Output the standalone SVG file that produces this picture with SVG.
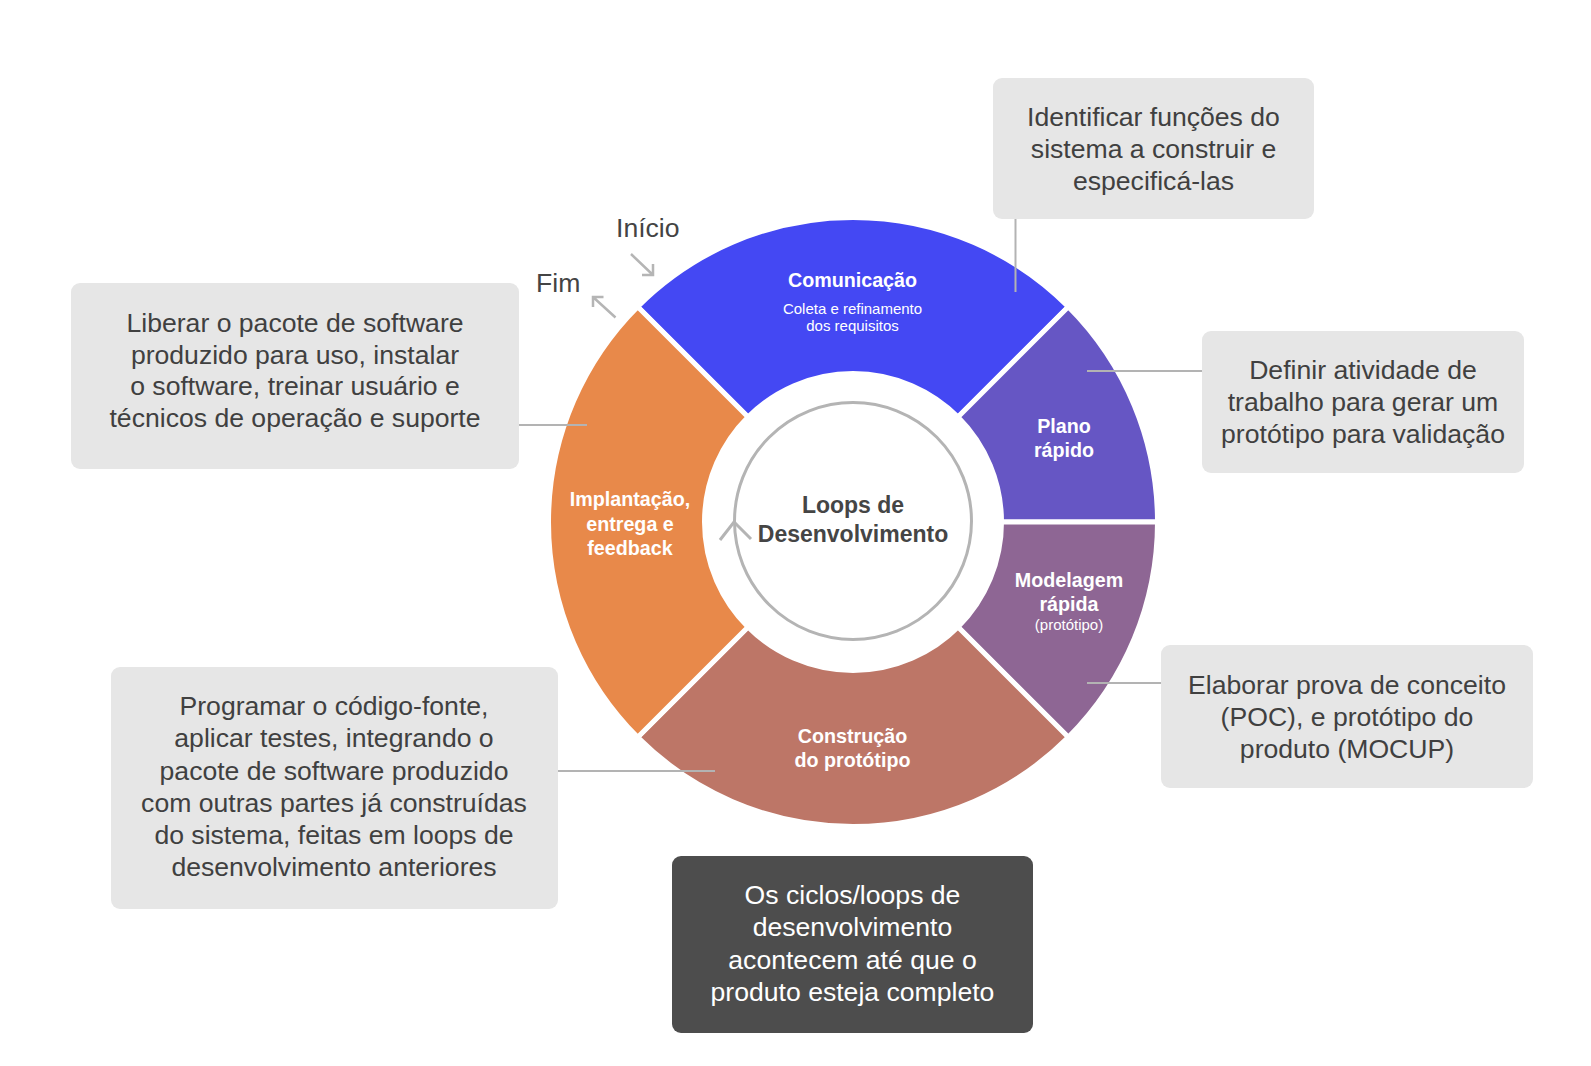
<svg xmlns="http://www.w3.org/2000/svg" width="1591" height="1066" viewBox="0 0 1591 1066">
<defs>
<style>
.seg{stroke:#ffffff;stroke-width:5;stroke-linejoin:miter}
.lbl{font-family:"Liberation Sans",Arial,sans-serif;font-weight:bold;font-size:19.7px;fill:#ffffff;text-anchor:middle}
.sub{font-family:"Liberation Sans",Arial,sans-serif;font-size:15px;fill:#ffffff;text-anchor:middle}
.box{fill:#e6e6e6}
.btxt{font-family:"Liberation Sans",Arial,sans-serif;font-size:26.6px;fill:#404040;text-anchor:middle}
.wtxt{font-family:"Liberation Sans",Arial,sans-serif;font-size:26.6px;fill:#ffffff;text-anchor:middle}
.conn{stroke:#b3b3b3;stroke-width:2;fill:none}
.arr{stroke:#b5b5b5;stroke-width:2.5;fill:none;stroke-linecap:butt}
.side{font-family:"Liberation Sans",Arial,sans-serif;font-size:26.6px;fill:#444444}
</style>
</defs>
<rect x="0" y="0" width="1591" height="1066" fill="#ffffff"/>

<g id="comunicacao">
<path class="seg" fill="#4448f3" d="M637.685,306.685 A304.5,304.5 0 0 1 1068.315,306.685 L958.005,416.995 A148.5,148.5 0 0 0 747.995,416.995 Z"/>
<text class="lbl" x="852.5" y="287">Comunicação</text>
<text class="sub" x="852.5" y="314">Coleta e refinamento</text>
<text class="sub" x="852.5" y="331">dos requisitos</text>
</g>
<g id="plano">
<path class="seg" fill="#6656c4" d="M1068.315,306.685 A304.5,304.5 0 0 1 1157.5,522 L1001.5,522 A148.5,148.5 0 0 0 958.005,416.995 Z"/>
<text class="lbl" x="1064" y="433">Plano</text>
<text class="lbl" x="1064" y="457">rápido</text>
</g>
<g id="modelagem">
<path class="seg" fill="#8e6694" d="M1157.5,522 A304.5,304.5 0 0 1 1068.315,737.315 L958.005,627.005 A148.5,148.5 0 0 0 1001.5,522 Z"/>
<text class="lbl" x="1069" y="587">Modelagem</text>
<text class="lbl" x="1069" y="611">rápida</text>
<text class="sub" x="1069" y="630">(protótipo)</text>
</g>
<g id="construcao">
<path class="seg" fill="#bd7667" d="M1068.315,737.315 A304.5,304.5 0 0 1 637.685,737.315 L747.995,627.005 A148.5,148.5 0 0 0 958.005,627.005 Z"/>
<text class="lbl" x="852.5" y="743">Construção</text>
<text class="lbl" x="852.5" y="766.5">do protótipo</text>
</g>
<g id="implantacao">
<path class="seg" fill="#e8894a" d="M637.685,737.315 A304.5,304.5 0 0 1 637.685,306.685 L747.995,416.995 A148.5,148.5 0 0 0 747.995,627.005 Z"/>
<text class="lbl" x="630" y="506">Implantação,</text>
<text class="lbl" x="630" y="531">entrega e</text>
<text class="lbl" x="630" y="554.5">feedback</text>
</g>

<g id="centro">
<circle cx="853" cy="521" r="118.5" fill="none" stroke="#b4b4b4" stroke-width="3"/>
<text x="853" y="513" font-family="Liberation Sans, Arial, sans-serif" font-weight="bold" font-size="23" fill="#454545" text-anchor="middle">Loops de</text>
<text x="853" y="542" font-family="Liberation Sans, Arial, sans-serif" font-weight="bold" font-size="23" fill="#454545" text-anchor="middle">Desenvolvimento</text>
</g>

<g id="inicio">
<text class="side" x="616" y="237">Início</text>
</g>
<g id="fim">
<text class="side" x="536" y="292">Fim</text>
</g>

<g id="box-comunicacao">
<rect class="box" x="993" y="78" width="321" height="141" rx="9"/>
<text class="btxt" x="1153.5" y="126">Identificar funções do</text>
<text class="btxt" x="1153.5" y="158">sistema a construir e</text>
<text class="btxt" x="1153.5" y="189.5">especificá-las</text>
</g>
<g id="box-implantacao">
<rect class="box" x="71" y="283" width="448" height="186" rx="9"/>
<text class="btxt" x="295" y="332">Liberar o pacote de software</text>
<text class="btxt" x="295" y="363.5">produzido para uso, instalar</text>
<text class="btxt" x="295" y="395">o software, treinar usuário e</text>
<text class="btxt" x="295" y="427">técnicos de operação e suporte</text>
</g>
<g id="box-plano">
<rect class="box" x="1202" y="331" width="322" height="142" rx="9"/>
<text class="btxt" x="1363" y="379">Definir atividade de</text>
<text class="btxt" x="1363" y="411">trabalho para gerar um</text>
<text class="btxt" x="1363" y="443">protótipo para validação</text>
</g>
<g id="box-modelagem">
<rect class="box" x="1161" y="645" width="372" height="143" rx="9"/>
<text class="btxt" x="1347" y="693.5">Elaborar prova de conceito</text>
<text class="btxt" x="1347" y="726">(POC), e protótipo do</text>
<text class="btxt" x="1347" y="758">produto (MOCUP)</text>
</g>
<g id="box-construcao">
<rect class="box" x="111" y="667" width="447" height="242" rx="9"/>
<text class="btxt" x="334" y="715">Programar o código-fonte,</text>
<text class="btxt" x="334" y="747">aplicar testes, integrando o</text>
<text class="btxt" x="334" y="779.5">pacote de software produzido</text>
<text class="btxt" x="334" y="812">com outras partes já construídas</text>
<text class="btxt" x="334" y="844">do sistema, feitas em loops de</text>
<text class="btxt" x="334" y="876">desenvolvimento anteriores</text>
</g>
<g id="box-nota">
<rect x="672" y="856" width="361" height="177" rx="9" fill="#4d4d4d"/>
<text class="wtxt" x="852.5" y="904">Os ciclos/loops de</text>
<text class="wtxt" x="852.5" y="936">desenvolvimento</text>
<text class="wtxt" x="852.5" y="969">acontecem até que o</text>
<text class="wtxt" x="852.5" y="1001">produto esteja completo</text>
</g>

<g id="connectors">
<line class="conn" x1="1015.5" y1="219" x2="1015.5" y2="292"/>
<line class="conn" x1="519" y1="425" x2="587" y2="425"/>
<line class="conn" x1="1087" y1="371" x2="1202" y2="371"/>
<line class="conn" x1="1087" y1="683" x2="1161" y2="683"/>
<line class="conn" x1="558" y1="771" x2="715" y2="771"/>
<path class="arr" d="M631,254 L653,275 M642,275 L653,275 L653,264"/>
<path class="arr" d="M615.5,317.5 L593,297 M603.5,297 L593,297 L593,307"/>
<path stroke="#b4b4b4" stroke-width="3" fill="none" d="M720,540 L734,522 L751,539"/>
</g>
</svg>
